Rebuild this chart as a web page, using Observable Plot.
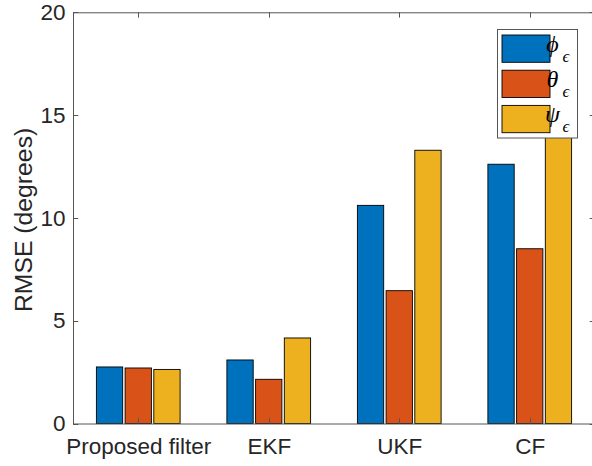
<!DOCTYPE html>
<html><head><meta charset="utf-8">
<script src="https://cdn.jsdelivr.net/npm/d3@7"></script>
<script src="https://cdn.jsdelivr.net/npm/@observablehq/plot@0.6"></script>
<style>
body{margin:0;background:#fff}
#chart{position:relative;width:592px;height:466px;overflow:hidden}
</style></head><body><div id="chart"></div>
<script>
const categories = ["Proposed filter", "EKF", "UKF", "CF"];
const series = ["phi", "theta", "psi"];
const seriesSymbols = ["ϕ", "θ", "ψ"];
const seriesSubscript = "ϵ";
const phiValues = [2.75, 3.09, 10.61, 12.61];
const thetaValues = [2.70, 2.15, 6.46, 8.50];
const psiValues = [2.63, 4.16, 13.29, 16.0];
const colors = ["#0072BD", "#D95319", "#EDB120"];
const yTicks = [0, 5, 10, 15, 20];
const yLabel = "RMSE (degrees)";

const table = [];
[phiValues, thetaValues, psiValues].forEach((vals, j) =>
  vals.forEach((v, i) => table.push({category: categories[i], pos: i + 1, series: series[j], value: v})));

const inner = d3.scaleBand().domain(series).range([-0.5, 0.5]).paddingInner(0.084).paddingOuter(0.815);
const xTicks = categories.map((c, i) => i + 1);
const axisColor = "#262626";
const tickFont = 22.5, labelFont = 24.75;

const chart = Plot.plot({
  width: 592, height: 466,
  marginLeft: 73, marginRight: -3, marginTop: 12.3, marginBottom: 42.5,
  style: {fontFamily: "'Liberation Sans', Arial, Helvetica, sans-serif", fontSize: tickFont + "px", color: axisColor, background: "white", overflow: "visible"},
  x: {domain: [0.5, 4.5]},
  y: {domain: [0, 20]},
  color: {domain: series, range: colors},
  marks: [
    Plot.rectY(table, {
      x1: d => d.pos + inner(d.series),
      x2: d => d.pos + inner(d.series) + inner.bandwidth(),
      y1: 0, y2: "value", fill: "series", stroke: "black", strokeWidth: 0.9
    }),
    Plot.frame({stroke: "#555", strokeWidth: 1}),
    Plot.axisX({ticks: xTicks, tickFormat: d => categories[d - 1], tickSize: 0, tickPadding: 14.5, fontSize: tickFont, fill: axisColor, label: null}),
    Plot.axisY({ticks: yTicks, tickSize: 0, tickPadding: 8, fontSize: tickFont, fill: axisColor, label: null}),
    Plot.text([yLabel], {frameAnchor: "left", dx: -42, dy: 1.5, rotate: -90, textAnchor: "middle", lineAnchor: "bottom", fontSize: labelFont, fill: axisColor})
  ]
});
document.getElementById("chart").appendChild(chart);

const sx = chart.scale("x"), sy = chart.scale("y");
const px = v => sx.apply(v), py = v => sy.apply(v);
const svg = d3.select(chart);
const g = svg.append("g").attr("stroke", "#555").attr("stroke-width", 1);
const L = 5.3;
const xl = px(0.5), xr = px(4.5), yb = py(0), yt = py(20);
xTicks.forEach(t => {
  const x = Math.round(px(t)) + 0.5;
  g.append("line").attr("x1", x).attr("x2", x).attr("y1", yb).attr("y2", yb - L);
  g.append("line").attr("x1", x).attr("x2", x).attr("y1", yt).attr("y2", yt + L);
});
yTicks.forEach(t => {
  const y = Math.round(py(t)) + 0.5;
  g.append("line").attr("x1", xl).attr("x2", xl + L).attr("y1", y).attr("y2", y);
  g.append("line").attr("x1", xr).attr("x2", xr - L).attr("y1", y).attr("y2", y);
});

// legend
const lg = svg.append("g");
lg.append("rect").attr("x", 497.5).attr("y", 29.5).attr("width", 80).attr("height", 108.5)
  .attr("fill", "white").attr("stroke", "#555").attr("stroke-width", 1);
series.forEach((s, j) => {
  const y0 = 35 + j * 35.2;
  lg.append("rect").attr("x", 502).attr("y", y0).attr("width", 48).attr("height", 27.3)
    .attr("fill", colors[j]).attr("stroke", "black").attr("stroke-width", 0.9);
  const t = lg.append("text").attr("x", 552.5).attr("y", y0 + 17)
    .attr("font-family", "'Liberation Serif', 'DejaVu Serif', serif").attr("font-style", "italic")
    .attr("font-size", 24).attr("fill", "black").text(seriesSymbols[j]);
  t.append("tspan").attr("x", 566).attr("dy", 10).attr("font-size", 17).text(seriesSubscript);
});
</script></body></html>
